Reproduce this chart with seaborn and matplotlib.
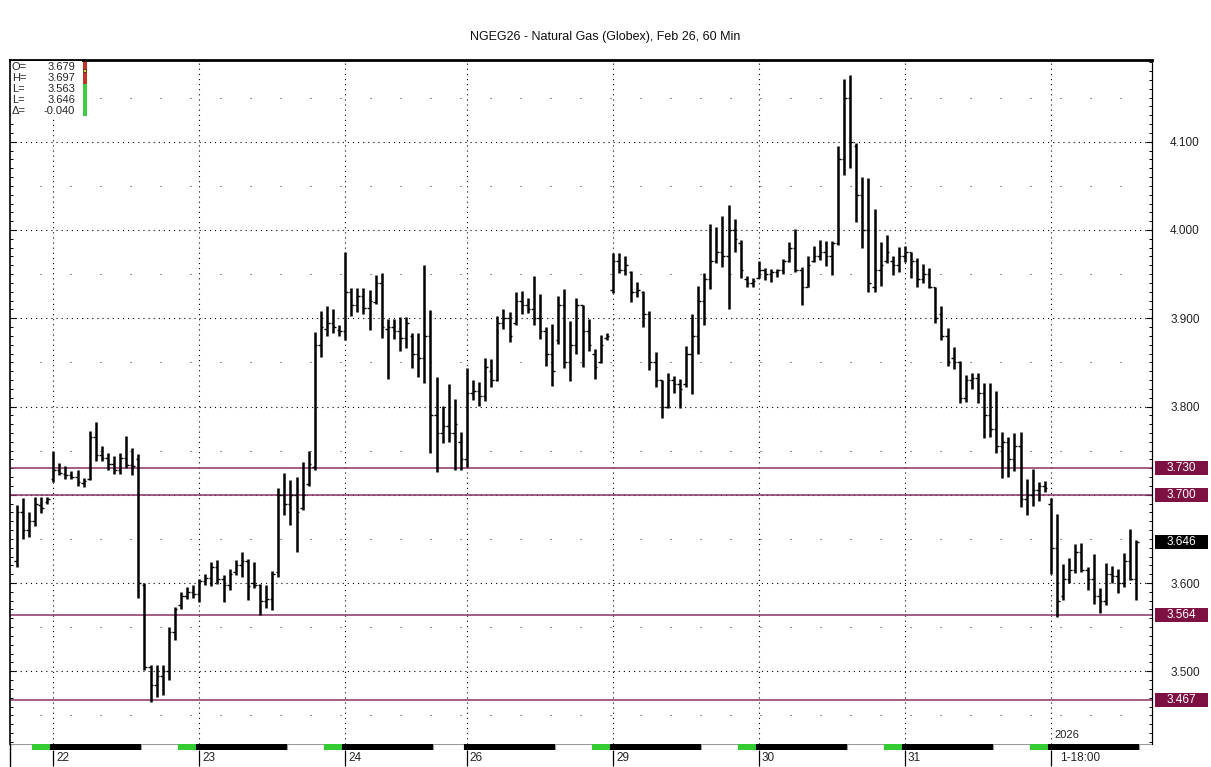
import matplotlib
matplotlib.use("Agg")
import matplotlib.pyplot as plt
from matplotlib.patches import Rectangle
from matplotlib.ticker import MultipleLocator, FuncFormatter
from matplotlib import transforms
import numpy as np
import pandas as pd
import seaborn as sns

# Datos OHLC de 60 minutos (indice de barra = posicion)
highs = [3.688, 3.696, 3.680, 3.697, 3.697, 3.698, 3.750, 3.736, 3.733, 3.727,
         3.728, 3.719, 3.772, 3.782, 3.755, 3.747, 3.744, 3.747, 3.767, 3.753,
         3.746, 3.600, 3.507, 3.507, 3.507, 3.550, 3.573, 3.590, 3.595, 3.598,
         3.605, 3.610, 3.624, 3.626, 3.609, 3.616, 3.626, 3.635, 3.627, 3.624,
         3.599, 3.598, 3.614, 3.708, 3.725, 3.717, 3.720, 3.737, 3.750, 3.884,
         3.908, 3.914, 3.910, 3.892, 3.975, 3.934, 3.934, 3.934, 3.932, 3.949,
         3.951, 3.899, 3.899, 3.901, 3.901, 3.883, 3.883, 3.960, 3.909, 3.833,
         3.801, 3.826, 3.809, 3.771, 3.844, 3.830, 3.828, 3.855, 3.854, 3.903,
         3.910, 3.907, 3.930, 3.931, 3.923, 3.948, 3.927, 3.890, 3.893, 3.925,
         3.933, 3.897, 3.923, 3.915, 3.899, 3.865, 3.881, 3.883, 3.974, 3.974,
         3.971, 3.954, 3.941, 3.931, 3.908, 3.862, 3.830, 3.838, 3.834, 3.831,
         3.869, 3.905, 3.937, 3.951, 4.007, 4.003, 4.016, 4.028, 4.012, 3.989,
         3.948, 3.946, 3.965, 3.957, 3.956, 3.956, 3.967, 3.986, 4.001, 3.958,
         3.971, 3.982, 3.989, 3.987, 3.988, 4.095, 4.171, 4.176, 4.099, 4.060,
         4.059, 4.024, 3.986, 3.994, 3.971, 3.981, 3.982, 3.975, 3.968, 3.961,
         3.957, 3.935, 3.914, 3.889, 3.867, 3.852, 3.836, 3.838, 3.838, 3.827,
         3.827, 3.818, 3.771, 3.765, 3.770, 3.771, 3.718, 3.729, 3.714, 3.716,
         3.696, 3.678, 3.622, 3.628, 3.644, 3.645, 3.618, 3.633, 3.594, 3.623,
         3.619, 3.616, 3.634, 3.661, 3.649]
lows = [3.618, 3.650, 3.652, 3.665, 3.679, 3.690, 3.714, 3.722, 3.718, 3.718,
        3.710, 3.709, 3.717, 3.738, 3.738, 3.728, 3.724, 3.724, 3.730, 3.722,
        3.583, 3.501, 3.465, 3.471, 3.473, 3.490, 3.535, 3.571, 3.582, 3.583,
        3.578, 3.598, 3.597, 3.599, 3.578, 3.592, 3.609, 3.607, 3.581, 3.594,
        3.564, 3.572, 3.569, 3.607, 3.677, 3.666, 3.635, 3.683, 3.710, 3.728,
        3.856, 3.880, 3.883, 3.880, 3.875, 3.903, 3.907, 3.905, 3.887, 3.916,
        3.878, 3.831, 3.876, 3.863, 3.866, 3.844, 3.833, 3.827, 3.747, 3.726,
        3.759, 3.760, 3.728, 3.728, 3.731, 3.807, 3.801, 3.806, 3.822, 3.829,
        3.888, 3.873, 3.892, 3.905, 3.906, 3.892, 3.876, 3.846, 3.823, 3.871,
        3.844, 3.829, 3.859, 3.845, 3.863, 3.831, 3.849, 3.875, 3.929, 3.951,
        3.949, 3.918, 3.924, 3.890, 3.841, 3.822, 3.787, 3.798, 3.815, 3.798,
        3.822, 3.814, 3.859, 3.892, 3.933, 3.963, 3.958, 3.910, 3.975, 3.946,
        3.935, 3.935, 3.946, 3.943, 3.941, 3.947, 3.950, 3.964, 3.952, 3.915,
        3.935, 3.964, 3.966, 3.959, 3.949, 3.983, 4.062, 4.070, 4.009, 3.980,
        3.930, 3.930, 3.937, 3.963, 3.949, 3.952, 3.964, 3.946, 3.935, 3.940,
        3.934, 3.895, 3.875, 3.846, 3.842, 3.804, 3.805, 3.820, 3.804, 3.764,
        3.765, 3.747, 3.719, 3.720, 3.727, 3.686, 3.677, 3.687, 3.693, 3.703,
        3.610, 3.561, 3.581, 3.600, 3.611, 3.612, 3.592, 3.576, 3.566, 3.575,
        3.600, 3.589, 3.595, 3.603, 3.581]
opens = [3.625, 3.680, 3.660, 3.670, 3.688, 3.692, 3.718, 3.728, 3.724, 3.722,
         3.720, 3.713, 3.718, 3.765, 3.745, 3.742, 3.735, 3.728, 3.742, 3.734,
         3.740, 3.598, 3.505, 3.485, 3.495, 3.500, 3.545, 3.575, 3.585, 3.590,
         3.588, 3.602, 3.606, 3.618, 3.605, 3.598, 3.612, 3.620, 3.625, 3.600,
         3.598, 3.580, 3.582, 3.612, 3.700, 3.690, 3.700, 3.685, 3.712, 3.732,
         3.870, 3.888, 3.895, 3.887, 3.885, 3.930, 3.915, 3.925, 3.912, 3.918,
         3.940, 3.888, 3.890, 3.885, 3.878, 3.880, 3.860, 3.855, 3.880, 3.790,
         3.770, 3.778, 3.770, 3.760, 3.740, 3.815, 3.818, 3.812, 3.840, 3.830,
         3.895, 3.900, 3.895, 3.920, 3.915, 3.910, 3.900, 3.885, 3.860, 3.875,
         3.915, 3.850, 3.870, 3.915, 3.885, 3.860, 3.850, 3.878, 3.932, 3.965,
         3.955, 3.952, 3.930, 3.930, 3.905, 3.850, 3.830, 3.800, 3.830, 3.825,
         3.825, 3.860, 3.880, 3.920, 3.945, 3.965, 3.975, 3.970, 4.000, 3.985,
         3.945, 3.940, 3.946, 3.955, 3.950, 3.952, 3.955, 3.965, 3.980, 3.955,
         3.935, 3.965, 3.970, 3.975, 3.970, 3.985, 4.080, 4.150, 4.095, 4.040,
         4.000, 3.935, 3.955, 3.965, 3.965, 3.960, 3.970, 3.975, 3.965, 3.945,
         3.950, 3.935, 3.905, 3.880, 3.855, 3.850, 3.810, 3.830, 3.832, 3.815,
         3.790, 3.775, 3.755, 3.760, 3.740, 3.755, 3.695, 3.700, 3.705, 3.710,
         3.690, 3.640, 3.585, 3.605, 3.615, 3.635, 3.615, 3.605, 3.585, 3.580,
         3.610, 3.608, 3.600, 3.625, 3.605]
closes = [3.680, 3.660, 3.670, 3.690, 3.685, 3.695, 3.728, 3.725, 3.722, 3.720,
          3.714, 3.716, 3.765, 3.745, 3.742, 3.735, 3.728, 3.742, 3.734, 3.733,
          3.600, 3.505, 3.485, 3.495, 3.500, 3.545, 3.570, 3.585, 3.590, 3.588,
          3.602, 3.606, 3.618, 3.605, 3.598, 3.610, 3.620, 3.625, 3.597, 3.598,
          3.580, 3.582, 3.610, 3.700, 3.690, 3.700, 3.680, 3.700, 3.735, 3.870,
          3.890, 3.895, 3.890, 3.885, 3.930, 3.915, 3.925, 3.912, 3.920, 3.940,
          3.890, 3.890, 3.885, 3.878, 3.895, 3.860, 3.855, 3.880, 3.790, 3.770,
          3.778, 3.770, 3.780, 3.740, 3.815, 3.818, 3.812, 3.845, 3.830, 3.895,
          3.900, 3.880, 3.920, 3.915, 3.910, 3.900, 3.885, 3.860, 3.840, 3.915,
          3.850, 3.870, 3.915, 3.885, 3.870, 3.845, 3.870, 3.880, 3.965, 3.955,
          3.960, 3.930, 3.932, 3.905, 3.850, 3.830, 3.800, 3.830, 3.825, 3.820,
          3.860, 3.880, 3.920, 3.945, 3.965, 3.975, 3.970, 4.000, 3.990, 3.955,
          3.940, 3.942, 3.955, 3.950, 3.952, 3.955, 3.965, 3.980, 3.955, 3.935,
          3.960, 3.970, 3.975, 3.970, 3.985, 4.080, 4.150, 4.100, 4.040, 4.000,
          3.940, 3.955, 3.960, 3.975, 3.960, 3.970, 3.975, 3.965, 3.945, 3.950,
          3.935, 3.900, 3.880, 3.850, 3.850, 3.810, 3.830, 3.832, 3.815, 3.790,
          3.775, 3.755, 3.760, 3.740, 3.755, 3.695, 3.700, 3.705, 3.710, 3.708,
          3.640, 3.580, 3.605, 3.615, 3.635, 3.615, 3.605, 3.585, 3.580, 3.610,
          3.608, 3.600, 3.625, 3.605, 3.646]

# Etiquetas de dias (indice de la primera barra del dia)
day_idx = [6, 30, 54, 74, 98, 122, 146, 170]
day_labels = ["22", "23", "24", "26", "29", "30", "31", "1-18:00"]
year_label = "2026"

# Niveles horizontales y ultimo precio
level_prices = [3.730, 3.700, 3.564, 3.467]
last_price = 3.646

# Franja de sesiones bajo el grafico (en indices de barra)
session_edges = [-1.1, 2.5, 5.5, 20.5, 26.5, 29.5, 44.5, 50.5, 53.5, 68.5, 73.5,
                 88.5, 94.5, 97.5, 112.5, 118.5, 121.5, 136.5, 142.5, 145.5,
                 160.5, 166.5, 169.5, 184.5, 186.6]
session_kind = ["off", "pre", "on", "off", "pre", "on", "off", "pre", "on", "off",
                "on", "off", "pre", "on", "off", "pre", "on", "off", "pre", "on",
                "off", "pre", "on", "off"]

# Cuadro OHLC superior izquierdo
legend_names = ["O=", "H=", "L=", "L=", "\u0394="]
legend_values = ["3.679", "3.697", "3.563", "3.646", "-0.040"]

title = "NGEG26 - Natural Gas (Globex), Feb 26, 60 Min"

sns.set_theme(style="white")
plt.rcParams["font.family"] = ["Liberation Sans", "DejaVu Sans"]

W_PX, H_PX = 1211, 767
def fx(px):
    return px / W_PX
def fy(py):
    return 1 - py / H_PX

MAROON = "#7d1142"
LINE_MAROON = "#8a3264"

df = pd.DataFrame({"bar": np.arange(len(highs)), "open": opens, "high": highs,
                   "low": lows, "close": closes})

fig = plt.figure(figsize=(W_PX / 100, H_PX / 100), dpi=100)
ax = fig.add_axes([fx(10), fy(744), fx(1152) - fx(10), fy(60) - fy(744)])

y_lo, y_hi = 3.4176, 4.1926
ax.set_ylim(y_lo, y_hi)
ax.set_xlim(-1.1, 186.6)

# grid punteado
dots = (0, (1, 3.6))
for p in np.arange(3.5, 4.15, 0.1):
    ax.axhline(p, color="black", lw=0.8, ls=dots, zorder=1)
for p in np.arange(3.45, 4.2, 0.1):
    ax.axhline(p, color="#444444", lw=0.8, ls=(0, (1, 26)), zorder=1)
for i in day_idx:
    ax.axvline(i, color="black", lw=0.8, ls=dots, zorder=1)

# niveles
for p in level_prices:
    ax.axhline(p, color=LINE_MAROON, lw=1.1, zorder=2)

# barras OHLC
ax.vlines(df["bar"], df["low"], df["high"], color="black", lw=1.8, zorder=3)
ax.hlines(df["open"], df["bar"] - 0.42, df["bar"], color="black", lw=1.0, zorder=3)
ax.hlines(df["close"], df["bar"], df["bar"] + 0.42, color="black", lw=1.0, zorder=3)

# ejes: se ocultan las etiquetas que quedan bajo una caja de nivel
def price_fmt(v, pos):
    if any(abs(v - p) < 0.012 for p in level_prices + [last_price]):
        return ""
    return f"{v:.3f}"

ax.yaxis.set_major_locator(MultipleLocator(0.1))
ax.yaxis.set_minor_locator(MultipleLocator(0.01))
ax.yaxis.set_major_formatter(FuncFormatter(price_fmt))
ax.tick_params(axis="y", which="both", direction="in", left=True, right=True,
               labelleft=False, labelright=True, colors="black")
ax.tick_params(axis="y", which="major", length=4, width=0.8, pad=13,
               labelsize=8.5, labelcolor="#222222")
ax.tick_params(axis="y", which="minor", length=2.2, width=0.7)
ax.set_xticks([])
for s in ["left", "right", "top"]:
    ax.spines[s].set_visible(True)
    ax.spines[s].set_color("black")
ax.spines["top"].set_linewidth(2.0)
ax.spines["left"].set_linewidth(1.2)
ax.spines["right"].set_linewidth(0.9)
ax.spines["bottom"].set_visible(False)

# cajas de precio a la derecha
px_per_unit = (744 - 60) / (y_hi - y_lo)
box_h = 14 / px_per_unit
bx0 = (1155 - 10) / 1142
bw = (1208 - 1155) / 1142
bxc = bx0 + bw / 2
yt = ax.get_yaxis_transform()
for p in level_prices:
    ax.add_patch(Rectangle((bx0, p - box_h / 2), bw, box_h, transform=yt,
                           fc=MAROON, ec="none", clip_on=False, zorder=6))
    ax.text(bxc, p, f"{p:.3f}", transform=yt, ha="center", va="center",
            color="white", fontsize=8.5, zorder=7, clip_on=False)
ax.add_patch(Rectangle((bx0, last_price - box_h / 2), bw, box_h, transform=yt,
                       fc="black", ec="none", clip_on=False, zorder=6))
ax.text(bxc, last_price, f"{last_price:.3f}", transform=yt, ha="center",
        va="center", color="white", fontsize=8.5, zorder=7, clip_on=False)

# franja de sesiones
ax2 = fig.add_axes([fx(10), fy(750), fx(1152) - fx(10), fy(744) - fy(750)])
ax2.set_xlim(ax.get_xlim())
ax2.set_ylim(0, 1)
colors = {"off": "white", "pre": "#33cc33", "on": "black"}
for s, e, k in zip(session_edges[:-1], session_edges[1:], session_kind):
    ax2.add_patch(Rectangle((s, 0.05), e - s, 0.9, fc=colors[k],
                            ec="#9a9a9a" if k == "off" else colors[k], lw=0.8))
ax2.set_xticks([])
ax2.set_yticks([])
for s in ax2.spines.values():
    s.set_visible(False)
ax2.vlines(day_idx, -2.6, 0, color="black", lw=0.9, clip_on=False)
ax2.plot([-1.1, -1.1], [-2.6, 1], color="black", lw=1.0, clip_on=False)
lab_tr = transforms.offset_copy(ax2.transData, fig=fig, x=3, y=0, units="dots")
for i, lab in zip(day_idx, day_labels):
    if lab.startswith("1-"):
        ax2.text(i + 1.0, -1.25, lab, transform=lab_tr, ha="left", va="center",
                 fontsize=8.5, color="#222222")
    else:
        ax2.text(i, -1.25, lab, transform=lab_tr, ha="left", va="center",
                 fontsize=8.5, color="#222222")
ax2.text(day_idx[-1], 1.6, year_label, transform=lab_tr, ha="left",
         va="bottom", fontsize=8, color="#222222", clip_on=False)

# titulo
fig.text(0.5, fy(37), title, ha="center", va="center", fontsize=9,
         color="#111111")

# cuadro OHLC (fondo blanco sobre las marcas del eje izquierdo)
fig.add_artist(Rectangle((fx(11), fy(116)), fx(71), fy(61) - fy(116),
                         transform=fig.transFigure, fc="white", ec="none",
                         zorder=2))
for k, (name, val) in enumerate(zip(legend_names, legend_values)):
    yy = fy(67 + 11 * k)
    fig.text(fx(12), yy, name, ha="left", va="center", fontsize=8, zorder=4)
    fig.text(fx(75), yy, val, ha="right", va="center", fontsize=8, zorder=4)
fig.add_artist(Rectangle((fx(83), fy(84)), fx(4), fy(62) - fy(84),
                         transform=fig.transFigure, fc="#c8302a", ec="none",
                         zorder=3))
fig.add_artist(Rectangle((fx(83), fy(116)), fx(4), fy(84) - fy(116),
                         transform=fig.transFigure, fc="#3dcc3d", ec="none",
                         zorder=3))
fig.add_artist(Rectangle((fx(83), fy(72)), fx(3), fy(69) - fy(72),
                         transform=fig.transFigure, fc="#e8d84a", ec="black",
                         lw=0.4, zorder=3))

fig.savefig("out.png", dpi=100)
